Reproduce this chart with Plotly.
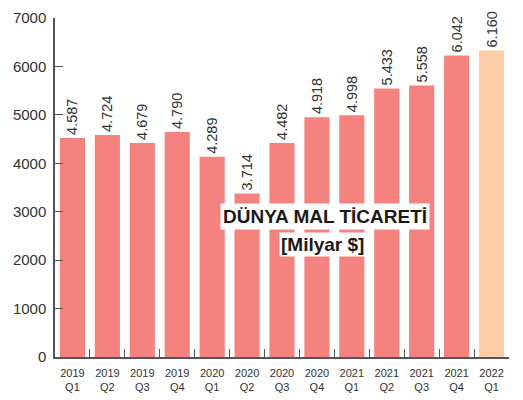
import plotly.graph_objects as go

years = ["2019", "2019", "2019", "2019", "2020", "2020", "2020", "2020", "2021", "2021", "2021", "2021", "2022"]
quarters = ["Q1", "Q2", "Q3", "Q4", "Q1", "Q2", "Q3", "Q4", "Q1", "Q2", "Q3", "Q4", "Q1"]
values = [4523, 4585, 4421, 4646, 4134, 3377, 4421, 4953, 4994, 5546, 5608, 6228, 6330]
value_labels = ["4.587", "4.724", "4.679", "4.790", "4.289", "3.714", "4.482", "4.918", "4.998", "5.433", "5.558", "6.042", "6.160"]
y_ticks = [0, 1000, 2000, 3000, 4000, 5000, 6000, 7000]

categories = [f"{y}<br>{q}" for y, q in zip(years, quarters)]
colors = ["#F4837F"] * (len(values) - 1) + ["#FCCDA6"]

fig = go.Figure()
fig.add_trace(go.Bar(
    x=categories,
    y=values,
    marker=dict(color=colors, line=dict(width=0)),
    text=value_labels,
    textposition="outside",
    textangle=-90,
    constraintext="none",
    cliponaxis=False,
    textfont=dict(family="Liberation Sans, Arial, sans-serif", size=14.5, color="#333333"),
    hoverinfo="skip",
))

# page body has an 8px default margin; the figure is sized to fit the 523x400 window
fig.update_layout(
    width=515,
    height=392,
    margin=dict(l=47, r=13.5, t=10, b=43),
    paper_bgcolor="white",
    plot_bgcolor="white",
    bargap=0.28,
    showlegend=False,
    xaxis=dict(
        type="category",
        automargin=False,
        tickangle=0,
        showline=True,
        linecolor="#555555",
        linewidth=1.5,
        ticks="inside",
        tickson="boundaries",
        ticklen=8,
        tickwidth=1.2,
        tickcolor="#555555",
        showgrid=False,
        tickfont=dict(family="Liberation Sans, Arial, sans-serif", size=11, color="#333333"),
        ticklabelstandoff=5,
    ),
    yaxis=dict(
        range=[0, 7000],
        automargin=False,
        tickvals=y_ticks,
        ticklabeloverflow="allow",
        showline=True,
        linecolor="#555555",
        linewidth=1.5,
        ticks="inside",
        ticklen=8,
        tickwidth=1.2,
        tickcolor="#555555",
        showgrid=False,
        zeroline=False,
        tickfont=dict(family="Liberation Sans, Arial, sans-serif", size=15, color="#333333"),
        ticklabelstandoff=4,
    ),
)

fig.add_annotation(
    xref="paper", yref="paper",
    x=(325.5 - 55) / 454.5, y=(357 - 217) / 339,
    text="<b>DÜNYA MAL TİCARETİ</b>",
    showarrow=False,
    font=dict(family="Liberation Sans, Arial, sans-serif", size=19, color="#1a1a1a"),
    bgcolor="white",
    borderpad=2,
    xanchor="center", yanchor="middle",
)
fig.add_annotation(
    xref="paper", yref="paper",
    x=(323 - 55) / 454.5, y=(357 - 244.5) / 339,
    text="<b>[Milyar $]</b>",
    showarrow=False,
    font=dict(family="Liberation Sans, Arial, sans-serif", size=19, color="#1a1a1a"),
    bgcolor="white",
    borderpad=1,
    xanchor="center", yanchor="middle",
)

fig.write_html("out.html")
